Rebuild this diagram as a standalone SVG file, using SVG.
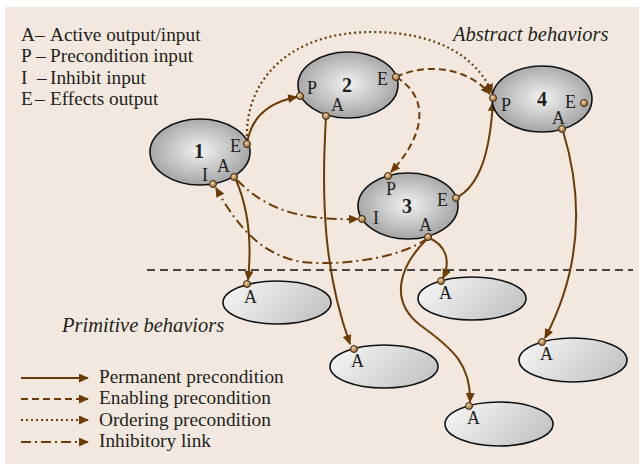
<svg xmlns="http://www.w3.org/2000/svg" width="639" height="464" viewBox="0 0 639 464">
<style>
text{font-family:"Liberation Serif","Times New Roman",serif;fill:#231f20}
.t{font-size:19.3px}
.it{font-size:20.5px;font-style:italic}
.lbl{font-size:18px}
.num{font-size:20px;font-weight:bold}
.node{fill:url(#ng);stroke:#111;stroke-width:1.6}
.prim{fill:url(#pg);stroke:#111;stroke-width:1.6}
.port{fill:url(#portg);stroke:#3a2810;stroke-width:1}
.c{fill:none;stroke:#6b3c08;stroke-width:2}
.perm{marker-end:url(#ah)}
.enab{stroke-dasharray:7 4;marker-end:url(#ah)}
.ord{stroke-dasharray:2 3;stroke-width:2.2;marker-end:url(#ah)}
.inh{stroke-dasharray:10 4 2 4;marker-end:url(#ah)}
.sep{stroke:#111;stroke-width:1.3;stroke-dasharray:8 5;fill:none}
</style>
<defs>
<radialGradient id="ng" cx="50%" cy="48%" r="55%">
<stop offset="0" stop-color="#f2f2f2"/>
<stop offset="1" stop-color="#a0a0a0"/>
</radialGradient>
<linearGradient id="pg" x1="0" y1="0.3" x2="1" y2="0.7">
<stop offset="0" stop-color="#f4f4f4"/>
<stop offset="1" stop-color="#c2c2c2"/>
</linearGradient>
<radialGradient id="portg" cx="40%" cy="35%" r="60%">
<stop offset="0" stop-color="#f0d4a8"/>
<stop offset="1" stop-color="#9c6c38"/>
</radialGradient>
<marker id="ah" viewBox="0 0 10 9" refX="9" refY="4.5" markerWidth="10" markerHeight="9" markerUnits="userSpaceOnUse" orient="auto">
<path d="M0,0 L10,4.5 L0,9 z" fill="#6b3c08"/>
</marker>
</defs>
<rect x="0" y="0" width="639" height="464" fill="#ffffff"/>
<rect x="5" y="7" width="634" height="457" fill="#f2e8df"/>

<g id="key-text">
<text class="t" x="21" y="41">A</text><text class="t" x="35" y="41">–</text><text class="t" x="50" y="41">Active output/input</text>
<text class="t" x="21" y="62">P</text><text class="t" x="36" y="62">–</text><text class="t" x="50" y="62">Precondition input</text>
<text class="t" x="21" y="84">I</text><text class="t" x="37" y="84">–</text><text class="t" x="50" y="84">Inhibit input</text>
<text class="t" x="21" y="105">E</text><text class="t" x="35" y="105">–</text><text class="t" x="50" y="105">Effects output</text>
</g>
<text class="it" x="453" y="41">Abstract behaviors</text>
<text class="it" x="62" y="332">Primitive behaviors</text>
<path class="sep" d="M147,270 H633"/>

<g id="connectors">
<path class="c ord" d="M247,141 C244,78 292,32 372,32 C438,32 478,58 492,93"/>
<path class="c perm" d="M247,144 C251,116 270,102 297,97"/>
<path class="c enab" d="M396,77 C428,62 468,68 490,94"/>
<path class="c enab" d="M396,77 C428,96 428,132 391,172"/>
<path class="c perm" d="M456,198 C481,185 490,150 493,102"/>
<path class="c inh" d="M237,180 C262,205 292,221 358,219"/>
<path class="c inh" d="M428,238 C400,258 345,266 302,262 C262,255 238,228 216,188"/>
<path class="c perm" d="M236,180 C249,210 252,242 248,280"/>
<path class="c perm" d="M326,117 C321,200 324,272 350,344"/>
<path class="c perm" d="M429,238 C446,245 451,261 443,278"/>
<path class="c perm" d="M428,238 C400,265 388,300 420,325 C455,350 471,366 470,402"/>
<path class="c perm" d="M563,131 C581,190 585,262 545,338"/>
</g>

<g id="node1">
<ellipse class="node" cx="200" cy="152" rx="50" ry="33"/>
<text class="num" x="199" y="158" text-anchor="middle">1</text>
<text class="lbl" x="230" y="152">E</text>
<text class="lbl" x="217" y="172">A</text>
<text class="lbl" x="202" y="181">I</text>
<circle class="port" cx="247" cy="144" r="3.5"/>
<circle class="port" cx="234" cy="177" r="3.5"/>
<circle class="port" cx="213" cy="184" r="3.5"/>
</g>
<g id="node2">
<ellipse class="node" cx="348" cy="85" rx="50" ry="33"/>
<text class="num" x="347" y="92" text-anchor="middle">2</text>
<text class="lbl" x="307" y="94">P</text>
<text class="lbl" x="331" y="111">A</text>
<text class="lbl" x="377" y="85">E</text>
<circle class="port" cx="300" cy="96" r="3.5"/>
<circle class="port" cx="326" cy="116" r="3.5"/>
<circle class="port" cx="396" cy="77" r="3.5"/>
</g>
<g id="node3">
<ellipse class="node" cx="408" cy="206" rx="50" ry="33"/>
<text class="num" x="407" y="213" text-anchor="middle">3</text>
<text class="lbl" x="386" y="195">P</text>
<text class="lbl" x="437" y="206">E</text>
<text class="lbl" x="373" y="224">I</text>
<text class="lbl" x="419" y="231">A</text>
<circle class="port" cx="388" cy="176" r="3.5"/>
<circle class="port" cx="456" cy="198" r="3.5"/>
<circle class="port" cx="362" cy="219" r="3.5"/>
<circle class="port" cx="428" cy="237" r="3.5"/>
</g>
<g id="node4">
<ellipse class="node" cx="542" cy="99" rx="50" ry="33"/>
<text class="num" x="542" y="106" text-anchor="middle">4</text>
<text class="lbl" x="501" y="111">P</text>
<text class="lbl" x="565" y="108">E</text>
<text class="lbl" x="552" y="124">A</text>
<circle class="port" cx="493" cy="98" r="3.5"/>
<circle class="port" cx="584" cy="103" r="3.5"/>
<circle class="port" cx="562" cy="129" r="3.5"/>
</g>

<g id="prim1">
<ellipse class="prim" cx="277" cy="302.5" rx="54" ry="21.5"/>
<text class="lbl" x="244" y="303">A</text>
<circle class="port" cx="247" cy="284" r="3.5"/>
</g>
<g id="prim2">
<ellipse class="prim" cx="384" cy="366.5" rx="54" ry="21.5"/>
<text class="lbl" x="351" y="367">A</text>
<circle class="port" cx="354" cy="349" r="3.5"/>
</g>
<g id="prim3">
<ellipse class="prim" cx="472" cy="298.5" rx="54" ry="21.5"/>
<text class="lbl" x="439" y="299">A</text>
<circle class="port" cx="441" cy="281" r="3.5"/>
</g>
<g id="prim4">
<ellipse class="prim" cx="573" cy="360" rx="54" ry="22"/>
<text class="lbl" x="540" y="360">A</text>
<circle class="port" cx="542" cy="342" r="3.5"/>
</g>
<g id="prim5">
<ellipse class="prim" cx="499" cy="424" rx="54" ry="22"/>
<text class="lbl" x="467" y="424">A</text>
<circle class="port" cx="469" cy="406" r="3.5"/>
</g>

<g id="legend">
<path class="c perm" d="M21,378 H88"/>
<path class="c enab" d="M21,399 H88"/>
<path class="c ord" d="M21,420 H88"/>
<path class="c inh" d="M21,442 H88"/>
<text class="t" x="99" y="383">Permanent precondition</text>
<text class="t" x="99" y="404">Enabling precondition</text>
<text class="t" x="99" y="426">Ordering precondition</text>
<text class="t" x="99" y="447">Inhibitory link</text>
</g>
</svg>
